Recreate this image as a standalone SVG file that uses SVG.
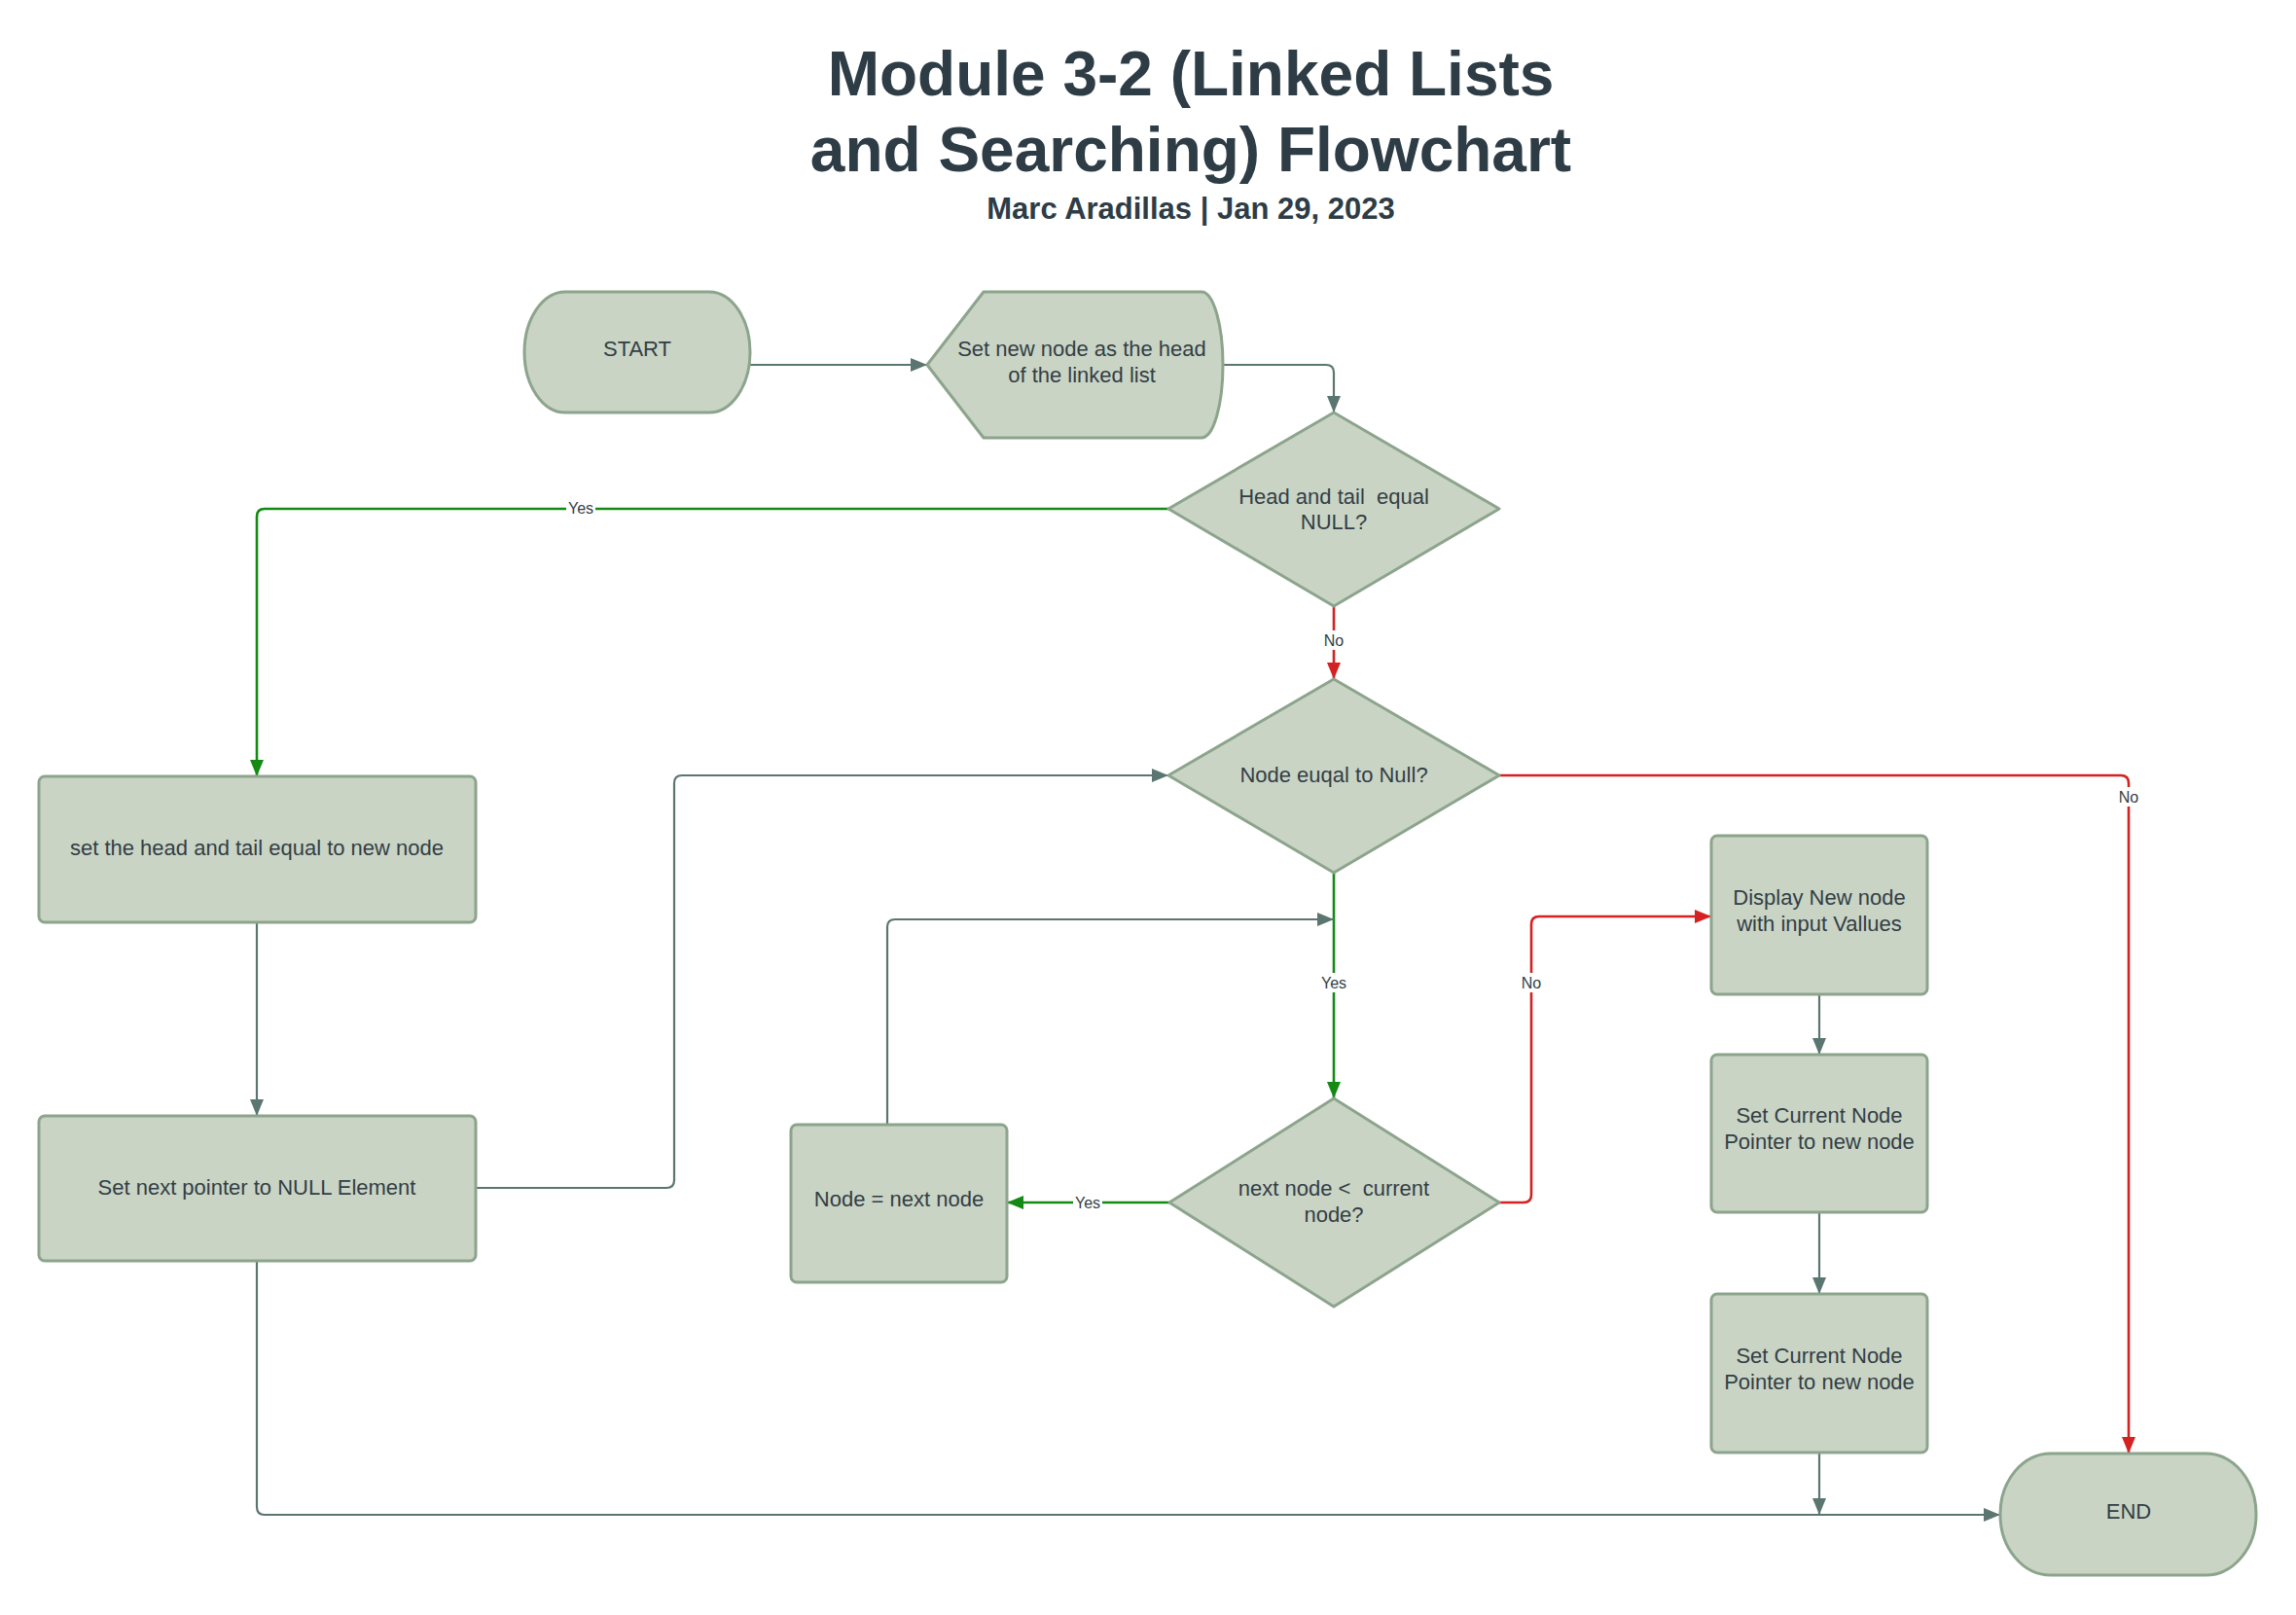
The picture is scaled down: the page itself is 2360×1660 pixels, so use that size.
<svg xmlns="http://www.w3.org/2000/svg" width="2360" height="1660" viewBox="0 0 2360 1660">
<style>
.node{fill:#c9d4c5;stroke:#8ca48c;stroke-width:3;stroke-linejoin:round}
.t{font-family:"Liberation Sans",Arial,sans-serif;font-size:22px;fill:#333e45;text-anchor:middle}
.title{font-family:"Liberation Sans",Arial,sans-serif;font-weight:bold;fill:#2e3c46;text-anchor:middle}
.c{fill:none;stroke-width:2.2;stroke-linejoin:round}
.gray{stroke:#5b7570;marker-end:url(#ag)}
.green{stroke:#148a14;stroke-width:2.6;marker-end:url(#agr)}
.red{stroke:#d42222;stroke-width:2.6;marker-end:url(#ar)}
.lbl{font-family:"Liberation Sans",Arial,sans-serif;font-size:16px;fill:#333e45;text-anchor:middle}
.lb{fill:#ffffff}
</style>
<defs>
<marker id="ag" markerUnits="userSpaceOnUse" markerWidth="18" markerHeight="14" refX="17" refY="7" orient="auto"><path d="M0,0 L17,7 L0,14 z" fill="#5b7570"/></marker>
<marker id="agr" markerUnits="userSpaceOnUse" markerWidth="18" markerHeight="14" refX="17" refY="7" orient="auto"><path d="M0,0 L17,7 L0,14 z" fill="#148a14"/></marker>
<marker id="ar" markerUnits="userSpaceOnUse" markerWidth="18" markerHeight="14" refX="17" refY="7" orient="auto"><path d="M0,0 L17,7 L0,14 z" fill="#d42222"/></marker>
</defs>
<rect width="2360" height="1660" fill="#ffffff"/>
<g id="title">
<text class="title" x="1224" y="98" font-size="64">Module 3-2 (Linked Lists</text>
<text class="title" x="1224" y="176" font-size="64">and Searching) Flowchart</text>
<text class="title" x="1224" y="225" font-size="31">Marc Aradillas | Jan 29, 2023</text>
</g>
<g id="connectors">
<path class="c gray" d="M771,375 H953"/>
<path class="c gray" d="M1257,375 H1363 Q1371,375 1371,383 V424"/>
<path class="c green" d="M1201,523 H272 Q264,523 264,531 V798"/>
<path class="c red" d="M1371,623 V698"/>
<path class="c gray" d="M264,948 V1147"/>
<path class="c gray" d="M489,1221 H685 Q693,1221 693,1213 V805 Q693,797 701,797 H1201"/>
<path class="c gray" d="M264,1296 V1549 Q264,1557 272,1557 H2056"/>
<path class="c red" d="M1541,797 H2180 Q2188,797 2188,805 V1494"/>
<path class="c green" d="M1371,897 V1129"/>
<path class="c gray" d="M912,1156 V953 Q912,945 920,945 H1371"/>
<path class="c green" d="M1202,1236 H1035"/>
<path class="c red" d="M1541,1236 H1566 Q1574,1236 1574,1228 V950 Q1574,942 1582,942 H1759"/>
<path class="c gray" d="M1870,1022 V1084"/>
<path class="c gray" d="M1870,1246 V1330"/>
<path class="c gray" d="M1870,1493 V1557"/>
<rect class="lb" x="582" y="512" width="30" height="20"/>
<text class="lbl" x="597" y="528">Yes</text>
<rect class="lb" x="1360" y="648" width="22" height="20"/>
<text class="lbl" x="1371" y="664">No</text>
<rect class="lb" x="2177" y="809" width="22" height="20"/>
<text class="lbl" x="2188" y="825">No</text>
<rect class="lb" x="1356" y="1000" width="30" height="20"/>
<text class="lbl" x="1371" y="1016">Yes</text>
<rect class="lb" x="1563" y="1000" width="22" height="20"/>
<text class="lbl" x="1574" y="1016">No</text>
<rect class="lb" x="1103" y="1226" width="30" height="20"/>
<text class="lbl" x="1118" y="1242">Yes</text>
</g>
<g id="start">
<rect class="node" x="539" y="300" width="232" height="124" rx="42" ry="62"/>
<text class="t" x="655" y="366">START</text>
</g>
<g id="set-head">
<path class="node" d="M1011,300 H1235 A22,75 0 0 1 1235,450 H1011 L953,375 Z"/>
<text class="t" x="1112" y="366">Set new node as the head</text>
<text class="t" x="1112" y="393">of the linked list</text>
</g>
<g id="head-tail-null">
<path class="node" d="M1371,424 L1541,523 L1371,623 L1201,523 Z"/>
<text class="t" x="1371" y="518" xml:space="preserve">Head and tail  equal</text>
<text class="t" x="1371" y="544">NULL?</text>
</g>
<g id="node-null">
<path class="node" d="M1371,698 L1541,797 L1371,897 L1201,797 Z"/>
<text class="t" x="1371" y="804">Node euqal to Null?</text>
</g>
<g id="next-less">
<path class="node" d="M1371,1129 L1541,1236 L1371,1343 L1202,1236 Z"/>
<text class="t" x="1371" y="1229" xml:space="preserve">next node &lt;  current</text>
<text class="t" x="1371" y="1256">node?</text>
</g>
<g id="set-head-tail">
<rect class="node" x="40" y="798" width="449" height="150" rx="6"/>
<text class="t" x="264" y="879">set the head and tail equal to new node</text>
</g>
<g id="set-next-null">
<rect class="node" x="40" y="1147" width="449" height="149" rx="6"/>
<text class="t" x="264" y="1228">Set next pointer to NULL Element</text>
</g>
<g id="node-next">
<rect class="node" x="813" y="1156" width="222" height="162" rx="6"/>
<text class="t" x="924" y="1240">Node = next node</text>
</g>
<g id="display-new">
<rect class="node" x="1759" y="859" width="222" height="163" rx="6"/>
<text class="t" x="1870" y="930">Display New node</text>
<text class="t" x="1870" y="957">with input Vallues</text>
</g>
<g id="set-current-1">
<rect class="node" x="1759" y="1084" width="222" height="162" rx="6"/>
<text class="t" x="1870" y="1154">Set Current Node</text>
<text class="t" x="1870" y="1181">Pointer to new node</text>
</g>
<g id="set-current-2">
<rect class="node" x="1759" y="1330" width="222" height="163" rx="6"/>
<text class="t" x="1870" y="1401">Set Current Node</text>
<text class="t" x="1870" y="1428">Pointer to new node</text>
</g>
<g id="end">
<rect class="node" x="2056" y="1494" width="263" height="125" rx="52" ry="62"/>
<text class="t" x="2188" y="1561">END</text>
</g>
</svg>
